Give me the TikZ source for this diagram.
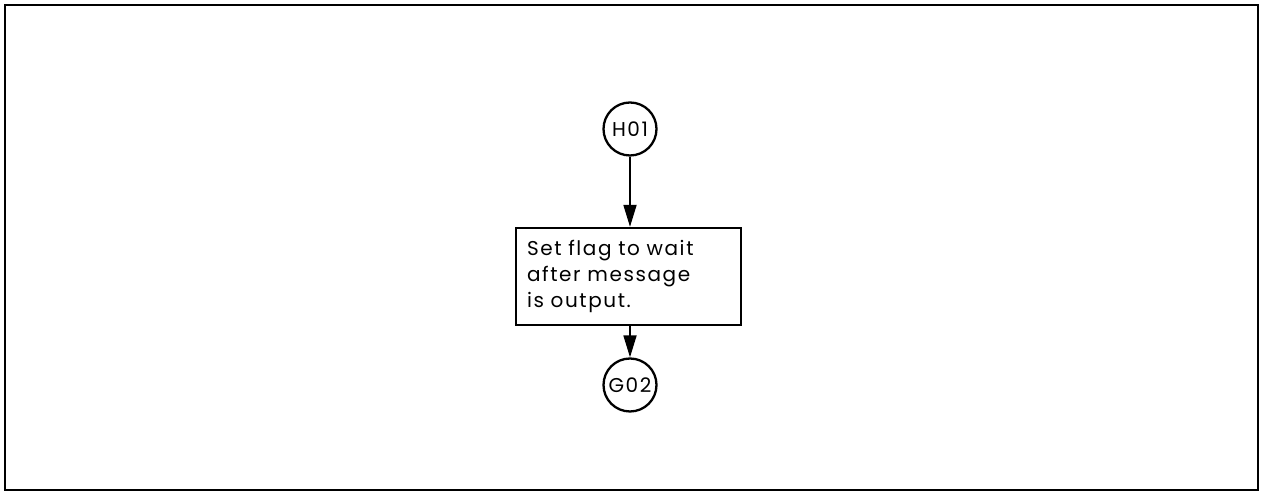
\documentclass[tikz,border=0pt]{standalone}
\usepackage{fontspec}
\setmainfont{Poppins}[LetterSpace=8,WordSpace=2.3]
\usetikzlibrary{arrows.meta}
\begin{document}
\begin{tikzpicture}[x=1pt,y=1pt,
  conn/.style={draw, line width=2.3pt, circle, minimum size=53pt, inner sep=0pt, font=\fontsize{20}{22}\selectfont},
  procbox/.style={draw, line width=2.3pt, rectangle, minimum width=225pt, minimum height=97pt, inner sep=0pt, text width=203pt, align=left, font=\fontsize{20}{26}\selectfont},
  flow/.style={line width=1.8pt, -{Triangle[width=13pt,length=22pt]}}]
\useasboundingbox (0,0) rectangle (1264,494);
\draw[line width=2.5pt] (5,4) rectangle (1258,489);
\node[conn] (h01) at (630,365) {H01};
\node[procbox] (box) at (628.5,217.5) {Set flag to wait\\after message\\is output.};
\node[conn] (g02) at (630,109) {G02};
\draw[flow] (h01) -- (h01 |- box.north);
\draw[flow] (box.south -| g02) -- (g02);
\end{tikzpicture}
\end{document}
